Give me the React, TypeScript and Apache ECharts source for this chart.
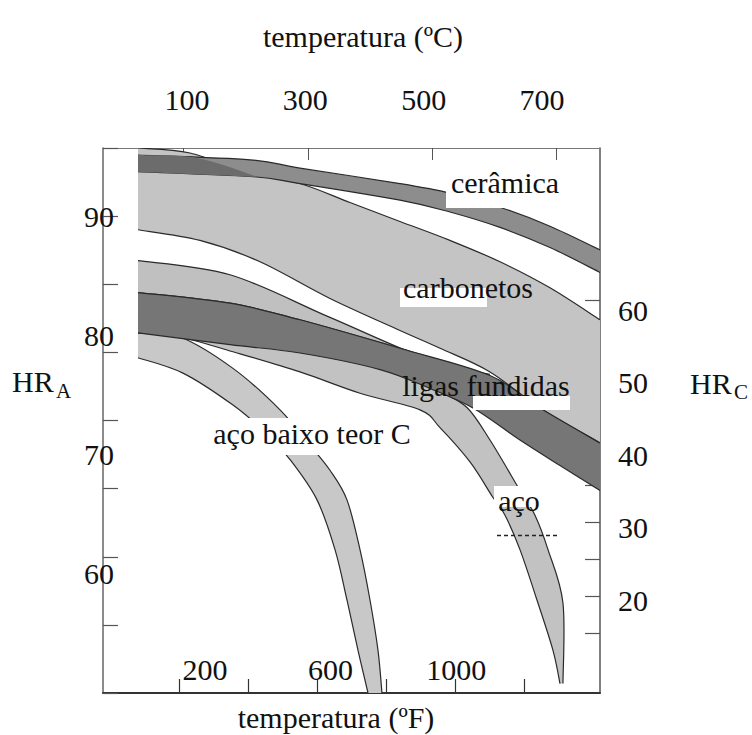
import React, { useEffect, useRef } from "react";
import * as echarts from "echarts";

type Pt = [number, number];

const SERIF = '"Liberation Serif", "Times New Roman", serif';

// ---- axes (temperature in °C is the data axis; °F is a second scale) ----
const celsiusMin = -30;
const celsiusMax = 771;
const celsiusTicks = [100, 300, 500, 700];
const celsiusLabelRange = [-42, 798];
const fahrenheitTicks = [200, 400, 600, 800, 1000, 1200];
const fahrenheitLabels = [200, 600, 1000];
const fahrenheitLabelRange = [-125, 1458];
const hraRange = [50, 96];
const hraLabels = [60, 70, 80, 90];
const hraLabelRange = [49.9, 95.8];
const hraTickRange = [0, 8];
const hrcLabels = [20, 30, 40, 50, 60];
const hrcLabelRange = [7.2, 82.4];
const hrcTicks = [15, 20, 25, 30, 35, 40, 45, 50, 55, 60, 65];
const hrcTickRange = [6.89, 80.54];

// ---- bands: [temperature °C, HRA] ----
const carbonetosSuperior: Pt[] = [[26.4, 96.0], [110.2, 95.58], [206.9, 93.89], [287.5, 93.0], [368.1, 91.4], [448.6, 89.8], [529.2, 88.2], [609.8, 86.4], [690.4, 84.2], [771, 81.5]];
const carbonetosInferior: Pt[] = [[26.4, 89.1], [126.3, 88.2], [223, 86.4], [335.8, 83.3], [448.6, 80.6], [513.1, 79.1], [593.7, 77.1], [674.3, 74.05], [771, 71.1]];

const ceramicaSuperior: Pt[] = [[26.4, 95.4], [206.9, 95.0], [287.5, 94.3], [448.6, 93.0], [529.2, 92.2], [609.8, 91.0], [690.4, 89.4], [771, 87.4]];
const ceramicaInferior: Pt[] = [[26.4, 94.0], [206.9, 93.6], [287.5, 93.0], [448.6, 91.6], [529.2, 90.6], [609.8, 89.3], [690.4, 87.6], [771, 85.5]];

const sobreposicaoSuperior: Pt[] = [[26.4, 95.4], [121.5, 95.15], [219.8, 93.55]];
const sobreposicaoInferior: Pt[] = [[26.4, 94.0], [219.8, 93.55]];

const faixaClaraSuperior: Pt[] = [[26.4, 86.5], [174.7, 85.3], [335.8, 81.7], [497, 78.1], [593.7, 76.9]];
const faixaClaraInferior: Pt[] = [[26.4, 83.8], [174.7, 82.9], [287.5, 81.5], [448.6, 79.1], [593.7, 76.8]];

const ligasSuperior: Pt[] = [[26.4, 83.8], [174.7, 82.9], [287.5, 81.5], [448.6, 79.1], [593.7, 76.8], [674.3, 74.05], [771, 71.1]];
const ligasInferior: Pt[] = [[26.4, 80.4], [174.7, 79.4], [287.5, 78.7], [416.4, 77.3], [497, 75.7], [566.3, 74.05], [642, 71.35], [706.5, 69.2], [771, 67.1]];

const acoSuperior: Pt[] = [[26.4, 82.2], [174.7, 81.1], [287.5, 79.8], [416.4, 77.7], [513.1, 75.4], [556.6, 74.1], [593.7, 71.35], [642, 67.1], [666.2, 65.0], [687.2, 62.1], [711.3, 57.6], [711.3, 50.8]];
const acoInferior: Pt[] = [[26.4, 80.4], [94.1, 80.05], [179.5, 78.8], [287.5, 77.1], [384.2, 75.3], [480.9, 73.9], [513.1, 72.4], [561.5, 69.5], [598.5, 66.5], [617.9, 65.0], [642, 62.1], [669.4, 57.85], [695.2, 53.6], [706.5, 50.8]];

const acoBaixoSuperior: Pt[] = [[26.4, 80.4], [94.1, 80.05], [179.5, 77.4], [255.3, 73.9], [303.6, 70.9], [335.8, 68.8], [363.2, 66.3], [384.2, 62.1], [400.3, 57.85], [413.2, 53.6], [419.6, 50]];
const acoBaixoInferior: Pt[] = [[26.4, 78.3], [98.9, 77.0], [179.5, 74.3], [231.1, 72.0], [271.4, 69.7], [314.9, 66.3], [343.9, 62.1], [363.2, 57.85], [381, 53.6], [397.1, 50]];

const tracejado: Pt[] = [[605, 63.3], [706.5, 63.3]];

// Catmull-Rom curve through screen points, as SVG path commands
function curvePath(pts: number[][], start: "M" | "L"): string {
  if (pts.length === 0) return "";
  let d = `${start}${pts[0][0].toFixed(2)},${pts[0][1].toFixed(2)}`;
  const n = pts.length;
  for (let i = 0; i < n - 1; i++) {
    const p0 = pts[Math.max(0, i - 1)];
    const p1 = pts[i];
    const p2 = pts[i + 1];
    const p3 = pts[Math.min(n - 1, i + 2)];
    const c1x = p1[0] + (p2[0] - p0[0]) / 6;
    const c1y = p1[1] + (p2[1] - p0[1]) / 6;
    const c2x = p2[0] - (p3[0] - p1[0]) / 6;
    const c2y = p2[1] - (p3[1] - p1[1]) / 6;
    d += ` C${c1x.toFixed(2)},${c1y.toFixed(2)} ${c2x.toFixed(2)},${c2y.toFixed(2)} ${p2[0].toFixed(2)},${p2[1].toFixed(2)}`;
  }
  return d;
}

function band(name: string, upper: Pt[], lower: Pt[], fill: string, edges: boolean) {
  return {
    type: "custom",
    name,
    xAxisIndex: 0,
    yAxisIndex: 0,
    clip: true,
    silent: true,
    data: [upper[0]],
    renderItem: (_params: any, api: any) => {
      const up = upper.map((p) => api.coord(p));
      const lo = lower.map((p) => api.coord(p));
      const fillPath = curvePath(up, "M") + " " + curvePath(lo.slice().reverse(), "L") + " Z";
      const children: any[] = [
        { type: "path", shape: { pathData: fillPath }, style: { fill, stroke: null, lineWidth: 0 } },
      ];
      if (edges) {
        children.push({ type: "path", shape: { pathData: curvePath(up, "M") }, style: { stroke: "#2a2a2a", lineWidth: 1.2, fill: null } });
        children.push({ type: "path", shape: { pathData: curvePath(lo, "M") }, style: { stroke: "#2a2a2a", lineWidth: 1.2, fill: null } });
      }
      return { type: "group", children };
    },
  };
}

function txt(text: string, x: number, y: number, size = 30, align = "center") {
  return {
    type: "text",
    z: 100,
    style: {
      text, x, y,
      fontSize: size,
      fontFamily: SERIF,
      fill: "#111",
      align,
      verticalAlign: "middle",
      textAlign: align,
      textVerticalAlign: "middle",
    },
  };
}

function whiteBox(x: number, y: number, width: number, height: number) {
  return { type: "rect", z: 99, shape: { x, y, width, height }, style: { fill: "#ffffff" } };
}

const labelStyle = { fontFamily: SERIF, fontSize: 30, color: "#111", formatter: (v: number) => String(v) };

export default function App() {
  const ref = useRef<HTMLDivElement>(null);
  useEffect(() => {
    if (!ref.current) return;
    const chart = echarts.init(ref.current, undefined, { renderer: "svg" });
    const fMin = celsiusMin * 1.8 + 32;
    const fMax = celsiusMax * 1.8 + 32;
    const none = { show: false };
    const noLine = { show: false, onZero: false };
    chart.setOption({
      animation: false,
      backgroundColor: "#ffffff",
      grid: { left: 103, top: 148, width: 497, height: 545, containLabel: false },
      xAxis: [
        {
          type: "value", min: celsiusMin, max: celsiusMax, position: "top",
          axisLine: { show: true, onZero: false, lineStyle: { color: "#777", width: 1.2 } },
          axisTick: { show: true, inside: true, length: 12, customValues: celsiusTicks, lineStyle: { color: "#555", width: 1 } },
          axisLabel: none, splitLine: none,
        },
        {
          type: "value", min: celsiusLabelRange[0], max: celsiusLabelRange[1], position: "top",
          axisLine: noLine, axisTick: none, splitLine: none,
          axisLabel: { show: true, customValues: celsiusTicks, margin: 34, ...labelStyle },
        },
        {
          type: "value", min: fMin, max: fMax, position: "bottom",
          axisLine: { show: true, onZero: false, lineStyle: { color: "#333", width: 2 } },
          axisTick: { show: true, inside: true, length: 14, customValues: fahrenheitTicks, lineStyle: { color: "#333", width: 1.2 } },
          axisLabel: none, splitLine: none,
        },
        {
          type: "value", min: fahrenheitLabelRange[0], max: fahrenheitLabelRange[1], position: "bottom",
          axisLine: noLine, axisTick: none, splitLine: none,
          axisLabel: { show: true, inside: true, customValues: fahrenheitLabels, margin: 9, ...labelStyle },
        },
      ],
      yAxis: [
        {
          type: "value", min: hraRange[0], max: hraRange[1], position: "left",
          axisLine: { show: true, onZero: false, lineStyle: { color: "#666", width: 1.5 } },
          axisTick: none, axisLabel: none, splitLine: none,
        },
        {
          type: "value", min: hraLabelRange[0], max: hraLabelRange[1], position: "left",
          axisLine: noLine, axisTick: none, splitLine: none,
          axisLabel: { show: true, customValues: hraLabels, margin: -11, ...labelStyle },
        },
        {
          type: "value", min: hraTickRange[0], max: hraTickRange[1], interval: 1, position: "left",
          axisLine: noLine, axisLabel: none, splitLine: none,
          axisTick: { show: true, inside: true, length: 15, lineStyle: { color: "#555", width: 1.2 } },
        },
        {
          type: "value", min: hrcLabelRange[0], max: hrcLabelRange[1], position: "right",
          axisLine: { show: true, onZero: false, lineStyle: { color: "#555", width: 1.5 } },
          axisTick: none, splitLine: none,
          axisLabel: { show: true, customValues: hrcLabels, margin: 18, ...labelStyle },
        },
        {
          type: "value", min: hrcTickRange[0], max: hrcTickRange[1], position: "right",
          axisLine: noLine, axisLabel: none, splitLine: none,
          axisTick: { show: true, inside: true, length: 15, customValues: hrcTicks, lineStyle: { color: "#555", width: 1.2 } },
        },
      ],
      series: [
        band("carbonetos", carbonetosSuperior, carbonetosInferior, "#c4c4c4", true),
        band("cerâmica", ceramicaSuperior, ceramicaInferior, "#8d8d8d", true),
        band("sobreposição", sobreposicaoSuperior, sobreposicaoInferior, "#6c6c6c", false),
        band("faixa clara", faixaClaraSuperior, faixaClaraInferior, "#c0c0c0", true),
        band("aço baixo teor C", acoBaixoSuperior, acoBaixoInferior, "#c8c8c8", true),
        band("aço", acoSuperior, acoInferior, "#c2c2c2", true),
        band("ligas fundidas", ligasSuperior, ligasInferior, "#767676", true),
        {
          type: "line", xAxisIndex: 0, yAxisIndex: 0, data: tracejado, symbol: "none", silent: true,
          lineStyle: { color: "#222", width: 1.5, type: [4, 3] }, z: 5,
        },
      ],
      graphic: [
        txt("temperatura (ºC)", 363, 36),
        txt("temperatura (ºF)", 336, 717),
        txt("HR", 12, 381, 30, "left"),
        txt("A", 56, 391, 21, "left"),
        txt("HR", 690, 383, 30, "left"),
        txt("C", 734, 392, 21, "left"),
        whiteBox(446, 166, 120, 42),
        txt("cerâmica", 505, 182),
        whiteBox(400, 288, 87, 19),
        txt("carbonetos", 468, 287),
        whiteBox(473, 396, 97, 14),
        txt("ligas fundidas", 486, 385),
        whiteBox(205, 418, 215, 37),
        txt("aço baixo teor C", 312, 433),
        whiteBox(494, 486, 50, 21),
        txt("aço", 519, 500),
      ],
    });
    return () => chart.dispose();
  }, []);
  return <div ref={ref} style={{ position: "absolute", left: 0, top: 0, width: 752, height: 735 }} />;
}
